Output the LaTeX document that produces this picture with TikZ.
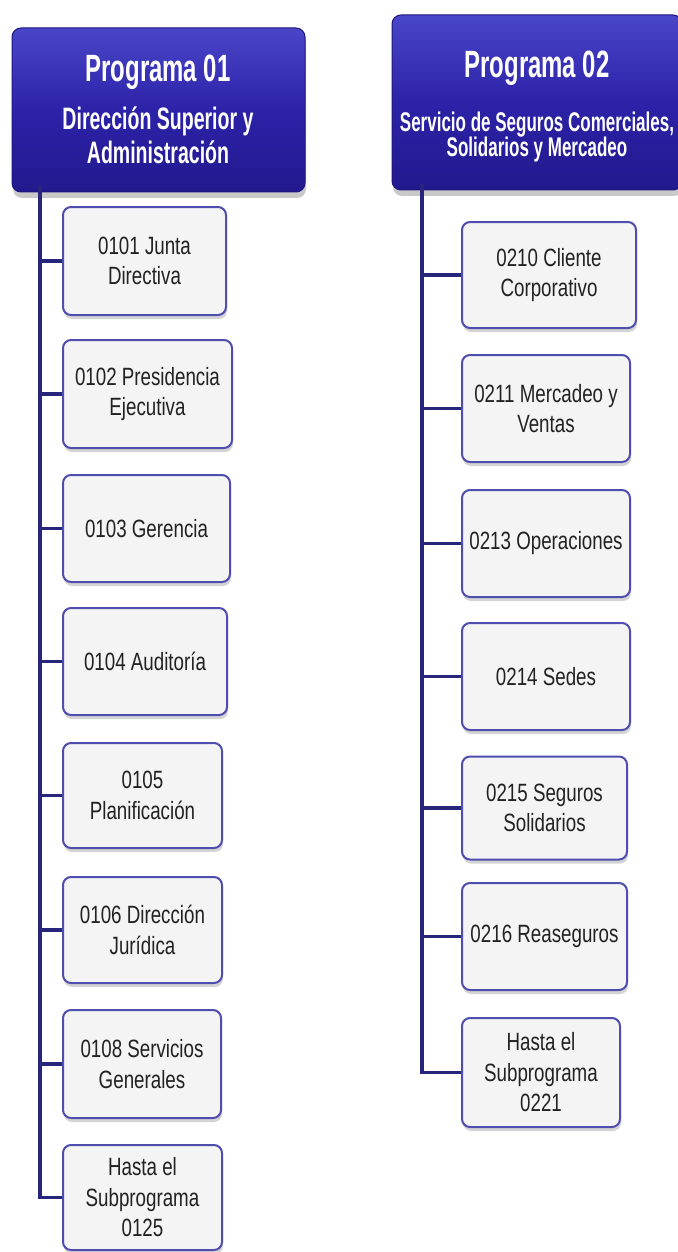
\documentclass[tikz,border=0pt]{standalone}
\usepackage{fontspec}
\setmainfont{Liberation Sans}
\newfontfamily\boxfont[FakeStretch=0.75]{Liberation Sans}
\newfontfamily\headfont[FakeStretch=0.63]{Liberation Sans}
\usetikzlibrary{shadows}
\definecolor{hdtop}{HTML}{4A46C8}
\definecolor{hdmid}{HTML}{2C22A8}
\definecolor{hdbot}{HTML}{22198E}
\definecolor{hdline}{HTML}{1E1680}
\definecolor{boxfill}{HTML}{F4F4F5}
\definecolor{boxline}{HTML}{4F4DAE}
\definecolor{conncol}{HTML}{27267C}
\definecolor{txtcol}{HTML}{222222}
\tikzset{
  header/.style={draw=hdline, line width=1pt, rounded corners=9pt,
    top color=hdtop, bottom color=hdbot, middle color=hdmid,
    drop shadow={shadow xshift=1pt, shadow yshift=-6pt, opacity=0.35, fill=black!60},
    inner sep=0pt},
  htitle/.style={anchor=base, text=white, font=\headfont\bfseries\fontsize{38}{40}\selectfont, inner sep=0pt},
  hsubA/.style={anchor=base, text=white, font=\headfont\bfseries\fontsize{31}{34}\selectfont, inner sep=0pt},
  hsubB/.style={anchor=base, text=white, font=\headfont\bfseries\fontsize{27}{26}\selectfont, inner sep=0pt},
  subbox/.style={draw=boxline, line width=2pt, rounded corners=8pt, fill=boxfill,
    drop shadow={shadow xshift=1pt, shadow yshift=-4pt, opacity=0.3, fill=black!55},
    align=center, text=txtcol, inner sep=2pt,
    font=\boxfont\fontsize{25}{30.5}\selectfont},
  conn/.style={draw=conncol, line width=3.5pt, line cap=rect}
}
\begin{document}
\begin{tikzpicture}[x=1pt,y=-1pt]
\useasboundingbox[fill=white] (0,0) rectangle (677,1252);

% connectors first (behind boxes)
\coordinate (t1) at (40,186);
\coordinate (t2) at (422,184);

% headers
\node[header, minimum width=293pt, minimum height=164pt] (h1) at (158.5,110) {};
\node[header, minimum width=290pt, minimum height=175pt] (h2) at (537,102.5) {};
\node[htitle] (h1t) at (158,82) {Programa 01};
\node[hsubA] (h1a) at (158,130) {Dirección Superior y};
\node[hsubA] (h1b) at (158,164) {Administración};
\node[htitle] (h2t) at (537,78) {Programa 02};
\node[hsubB] (h2a) at (537,132) {Servicio de Seguros Comerciales,};
\node[hsubB] (h2b) at (537,157) {Solidarios y Mercadeo};

% left column boxes
\node[subbox, minimum width=163pt, minimum height=108pt] (L1) at (144.5,261) {0101 Junta\\Directiva};
\node[subbox, minimum width=169pt, minimum height=108pt] (L2) at (147.5,394) {0102 Presidencia\\Ejecutiva};
\node[subbox, minimum width=167pt, minimum height=107pt] (L3) at (146.5,528.5) {0103 Gerencia};
\node[subbox, minimum width=164pt, minimum height=107pt] (L4) at (145,661.5) {0104 Auditoría};
\node[subbox, minimum width=159pt, minimum height=105pt] (L5) at (142.5,795.5) {0105\\Planificación};
\node[subbox, minimum width=159pt, minimum height=106pt] (L6) at (142.5,930) {0106 Dirección\\Jurídica};
\node[subbox, minimum width=158pt, minimum height=108pt] (L7) at (142,1064) {0108 Servicios\\Generales};
\node[subbox, minimum width=159pt, minimum height=105pt] (L8) at (142.5,1197.5) {Hasta el\\Subprograma\\0125};

% right column boxes
\node[subbox, minimum width=174pt, minimum height=106pt] (R1) at (549,275) {0210 Cliente\\Corporativo};
\node[subbox, minimum width=168pt, minimum height=107pt] (R2) at (546,408.5) {0211 Mercadeo y\\Ventas};
\node[subbox, minimum width=168pt, minimum height=107pt] (R3) at (546,543.5) {0213 Operaciones};
\node[subbox, minimum width=168pt, minimum height=107pt] (R4) at (546,676.5) {0214 Sedes};
\node[subbox, minimum width=165pt, minimum height=103pt] (R5) at (544.5,808) {0215 Seguros\\Solidarios};
\node[subbox, minimum width=165pt, minimum height=107pt] (R6) at (544.5,936.5) {0216 Reaseguros};
\node[subbox, minimum width=158pt, minimum height=109pt] (R7) at (541,1072.5) {Hasta el\\Subprograma\\0221};

% connectors
\begin{scope}[on background layer/.style={}]
\draw[conn, line cap=butt] (t1) |- (L8.west);
\foreach \n in {L1,L2,L3,L4,L5,L6,L7} {\draw[conn, line cap=butt] (t1 |- \n.west) -- (\n.west);}
\draw[conn, line cap=butt] (t2) |- (R7.west);
\foreach \n in {R1,R2,R3,R4,R5,R6} {\draw[conn, line cap=butt] (t2 |- \n.west) -- (\n.west);}
\end{scope}
\end{tikzpicture}
\end{document}
